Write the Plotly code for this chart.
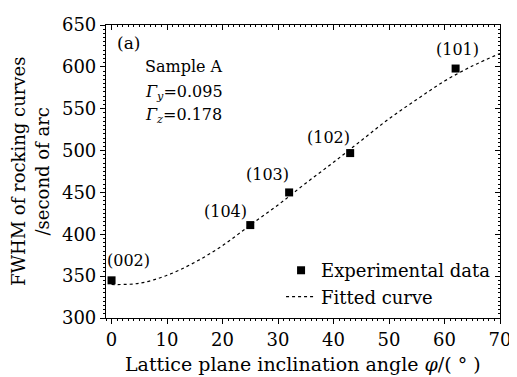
import plotly.graph_objects as go

# Experimental data
angles = [0, 25, 32, 43, 62]
fwhm = [345, 411, 450, 497, 598]
hkl = ["(002)", "(104)", "(103)", "(102)", "(101)"]

# Fitted curve
fit_x = [0, 5, 10, 15, 20, 25, 30, 35, 40, 45, 50, 55, 60, 65, 70]
fit_y = [340, 341.5, 351, 366.5, 386.5, 411, 435, 461, 486, 512, 538, 561, 583, 601, 616]

FONT = "DejaVu Serif"

fig = go.Figure()
fig.add_trace(go.Scatter(x=fit_x, y=fit_y, mode="lines", name="Fitted curve",
                         line=dict(color="black", width=1.2, dash="dot", shape="spline")))
fig.add_trace(go.Scatter(x=angles, y=fwhm, mode="markers", name="Experimental data",
                         marker=dict(symbol="square", size=8, color="black")))
# dummy trace on the mirror axes
fig.add_trace(go.Scatter(x=[None], y=[None], xaxis="x2", yaxis="y2", showlegend=False))

# hkl labels (pixel shifts from their points)
label_shifts = [(17, 20), (-25, 14), (-22, 18), (-22, 16), (2, 19)]
for ax_, ay_, (dx, dy), t in zip(angles, fwhm, label_shifts, hkl):
    fig.add_annotation(x=ax_, y=ay_, text=t, showarrow=False, xshift=dx, yshift=dy,
                       font=dict(family=FONT, size=16, color="black"))

fig.add_annotation(x=0.022, y=0.94, xref="paper", yref="paper", text="(a)", showarrow=False,
                   xanchor="left", yanchor="middle", font=dict(family=FONT, size=17, color="black"))
fig.add_annotation(x=0.095, y=0.857, xref="paper", yref="paper", text="Sample A", showarrow=False,
                   xanchor="left", yanchor="middle", font=dict(family=FONT, size=16, color="black"))
fig.add_annotation(x=0.095, y=0.77, xref="paper", yref="paper",
                   text="<i>Γ</i><sub><i>y</i></sub>=0.095", showarrow=False,
                   xanchor="left", yanchor="middle", font=dict(family=FONT, size=16, color="black"))
fig.add_annotation(x=0.095, y=0.69, xref="paper", yref="paper",
                   text="<i>Γ</i><sub><i>z</i></sub>=0.178", showarrow=False,
                   xanchor="left", yanchor="middle", font=dict(family=FONT, size=16, color="black"))

# axis titles
fig.add_annotation(x=0.5, y=-0.158, xref="paper", yref="paper",
                   text="Lattice plane inclination angle <i>φ</i>/( ° )", showarrow=False,
                   xanchor="center", yanchor="middle", font=dict(family=FONT, size=19, color="black"))
fig.add_annotation(x=-0.222, y=0.5, xref="paper", yref="paper",
                   text="FWHM of rocking curves", showarrow=False, textangle=-90,
                   xanchor="center", yanchor="middle", font=dict(family=FONT, size=18, color="black"))
fig.add_annotation(x=-0.16, y=0.5, xref="paper", yref="paper",
                   text="/second of arc", showarrow=False, textangle=-90,
                   xanchor="center", yanchor="middle", font=dict(family=FONT, size=18, color="black"))

axis_common = dict(showgrid=False, zeroline=False, showline=True, linecolor="black", linewidth=1.2,
                   tickcolor="black", tickfont=dict(family=FONT, size=18, color="black"),
                   ticklabeloverflow="allow")

fig.update_layout(
    width=509, height=369,
    margin=dict(l=98, r=9, t=6, b=59),
    paper_bgcolor="white", plot_bgcolor="white",
    font=dict(family=FONT, color="black"),
    xaxis=dict(range=[-1, 70], dtick=10, ticks="outside", ticklen=5,
               minor=dict(dtick=1, ticks="outside", ticklen=2, tickcolor="black"),
               **axis_common),
    yaxis=dict(range=[300, 650], dtick=50, ticks="outside", ticklen=5,
               minor=dict(dtick=5, ticks="outside", ticklen=2, tickcolor="black"),
               **axis_common),
    xaxis2=dict(range=[-1, 70], dtick=10, ticks="inside", ticklen=5, overlaying="x", side="top",
                anchor="y2", showticklabels=False,
                minor=dict(dtick=1, ticks="inside", ticklen=2, tickcolor="black"), **axis_common),
    yaxis2=dict(range=[300, 650], dtick=50, ticks="inside", ticklen=5, overlaying="y", side="right",
                anchor="x2", showticklabels=False,
                minor=dict(dtick=5, ticks="inside", ticklen=2, tickcolor="black"), **axis_common),
    legend=dict(x=0.99, y=0.01, xanchor="right", yanchor="bottom", bgcolor="rgba(0,0,0,0)",
                font=dict(family=FONT, size=18, color="black"), traceorder="reversed",
                itemwidth=30, tracegroupgap=0),
    showlegend=True,
)

fig.write_html("out.html")
